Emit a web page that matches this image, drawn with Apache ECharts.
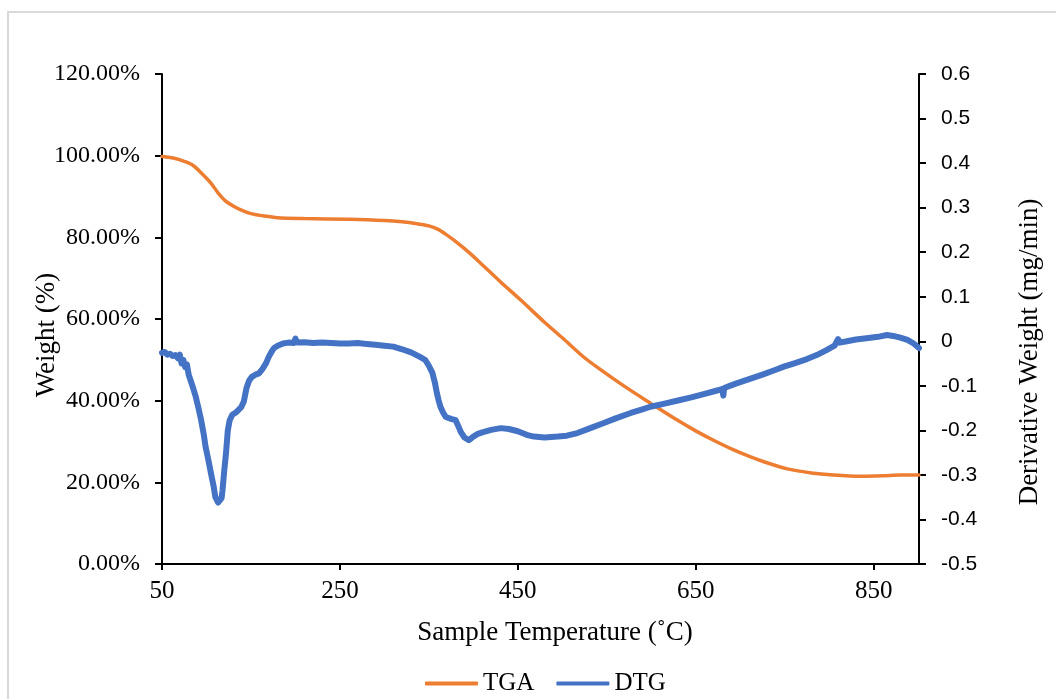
<!DOCTYPE html>
<html>
<head>
<meta charset="utf-8">
<script src="https://cdn.jsdelivr.net/npm/echarts@6.0.0/dist/echarts.min.js"></script>
<style>
  html, body { margin: 0; padding: 0; background: #fff; }
  #myCharts { width: 1056px; height: 699px; }
</style>
</head>
<body>
<div id="myCharts"></div>
<script>
  // x axis ticks shown
  var tempTicks = [50, 250, 450, 650, 850];

  // TGA: weight (%) vs temperature
  var tgaTemp = [50, 65, 75, 85, 95, 105, 113, 121, 130, 140, 150, 165, 180, 210, 260, 300, 320, 335, 350, 360,
    370, 380, 395, 410, 430, 453, 480, 500, 524, 543, 570, 599, 625, 650, 670, 692, 711, 730, 753, 780,
    805, 835, 860, 880, 901];
  var tgaWeight = [99.8, 99.3, 98.6, 97.6, 95.6, 93.3, 90.9, 89.0, 87.7, 86.6, 85.8, 85.2, 84.8, 84.6, 84.4, 84.1, 83.8, 83.4, 82.8, 82.0,
    80.6, 79.0, 76.3, 73.3, 69.2, 64.7, 59.2, 55.4, 50.7, 47.6, 43.5, 39.4, 35.8, 32.6, 30.3, 28.0, 26.3, 24.8, 23.3, 22.3,
    21.8, 21.5, 21.6, 21.8, 21.8];

  // DTG: derivative weight (mg/min) vs temperature
  var dtgTemp = [50, 53, 56, 59, 62, 65, 68, 70, 72, 74, 76, 78, 80, 82, 85, 88, 91, 94, 97, 99,
    102, 105, 108, 110, 113, 115, 117, 118, 120, 122, 124, 126, 129, 133, 136, 139, 142, 145, 148, 151,
    155, 159, 163, 167, 170, 173, 176, 180, 186, 192, 198, 200, 202, 210, 220, 230, 240, 250, 260, 270,
    280, 290, 300, 310, 320, 330, 340, 346, 350, 354, 357, 359, 361, 363, 366, 369, 375, 380, 383, 386,
    390, 395, 400, 405, 411, 420, 431, 440, 450, 460, 468, 480, 495, 505, 517, 530, 546, 560, 577, 590,
    599, 615, 630, 645, 660, 675, 680, 681, 682, 695, 710, 725, 740, 749, 760, 775, 786, 797, 806, 810,
    812, 820, 830, 842, 855, 865, 872, 880, 888, 895, 901];
  var dtgValue = [-0.026, -0.024, -0.03, -0.028, -0.033, -0.031, -0.038, -0.03, -0.05, -0.042, -0.058, -0.052, -0.075, -0.087, -0.105, -0.125, -0.15, -0.177, -0.21, -0.237,
    -0.265, -0.296, -0.325, -0.35, -0.362, -0.365, -0.352, -0.335, -0.29, -0.25, -0.2, -0.178, -0.165, -0.16, -0.154, -0.148, -0.135, -0.105, -0.088, -0.08,
    -0.075, -0.072, -0.062, -0.049, -0.035, -0.024, -0.015, -0.01, -0.005, -0.003, -0.004, 0.006, -0.003, -0.002, -0.004, -0.003, -0.004, -0.005, -0.005, -0.004,
    -0.006, -0.008, -0.01, -0.012, -0.018, -0.025, -0.035, -0.042, -0.055, -0.071, -0.095, -0.116, -0.133, -0.147, -0.16, -0.17, -0.174, -0.177, -0.19, -0.204,
    -0.216, -0.222, -0.214, -0.208, -0.204, -0.199, -0.195, -0.197, -0.202, -0.21, -0.214, -0.216, -0.214, -0.212, -0.206, -0.196, -0.184, -0.173, -0.161, -0.153,
    -0.147, -0.14, -0.133, -0.126, -0.118, -0.11, -0.107, -0.122, -0.105, -0.095, -0.085, -0.075, -0.064, -0.057, -0.05, -0.04, -0.031, -0.02, -0.01, 0.005,
    -0.003, 0.0, 0.004, 0.007, 0.01, 0.014, 0.012, 0.008, 0.003, -0.005, -0.015];

  function pairs(xs, ys) {
    var out = [];
    for (var i = 0; i < xs.length; i++) out.push([xs[i], ys[i]]);
    return out;
  }

  var serif = '"Liberation Serif", "Times New Roman", serif';
  var sans = '"Liberation Sans", Arial, sans-serif';

  var myCharts = echarts.init(document.getElementById('myCharts'));
  var option = {
    animation: false,
    graphic: [
      {
        type: 'rect', z: -1,
        shape: { x: 8, y: 12, width: 1200, height: 900 },
        style: { fill: 'none', stroke: '#d9d9d9', lineWidth: 2 }
      },
      {
        type: 'text', x: 47, y: 335, rotation: Math.PI / 2,
        style: { text: 'Weight (%)', font: '27px ' + serif, fill: '#000', align: 'center', verticalAlign: 'middle' }
      },
      {
        type: 'text', x: 1030, y: 352, rotation: Math.PI / 2,
        style: { text: 'Derivative Weight (mg/min)', font: '27px ' + serif, fill: '#000', align: 'center', verticalAlign: 'middle' }
      },
      {
        type: 'text', x: 555, y: 633,
        style: { text: 'Sample Temperature (˚C)', font: '27px ' + serif, fill: '#000', align: 'center', verticalAlign: 'middle' }
      }
    ],
    grid: { left: 162, right: 137, top: 74, bottom: 135 },
    legend: {
      left: 420, top: 666,
      itemWidth: 53, itemHeight: 4, itemGap: 22,
      icon: 'roundRect',
      textStyle: { fontFamily: serif, fontSize: 25, color: '#000' },
      data: ['TGA', 'DTG']
    },
    xAxis: {
      type: 'value', min: 50, max: 901,
      axisLine: { lineStyle: { color: '#000', width: 2 } },
      axisTick: { show: true, length: 6, lineStyle: { color: '#000', width: 2 }, customValues: tempTicks },
      axisLabel: { margin: 15, fontFamily: serif, fontSize: 25, color: '#000', customValues: tempTicks },
      splitLine: { show: false }
    },
    yAxis: [
      {
        type: 'value', min: 0, max: 120, interval: 20, position: 'left',
        axisLine: { show: true, lineStyle: { color: '#000', width: 2 } },
        axisTick: { show: true, length: 7, lineStyle: { color: '#000', width: 2 } },
        axisLabel: {
          margin: 22, fontFamily: serif, fontSize: 24, color: '#000',
          formatter: function (v) { return v.toFixed(2) + '%'; }
        },
        splitLine: { show: false }
      },
      {
        type: 'value', min: -0.5, max: 0.6, interval: 0.1, position: 'right',
        axisLine: { show: true, lineStyle: { color: '#000', width: 2 } },
        axisTick: { show: true, length: 7, lineStyle: { color: '#000', width: 2 } },
        axisLabel: {
          margin: 22, fontFamily: sans, fontSize: 21, color: '#000',
          formatter: function (v) {
            var s = v.toFixed(1);
            return (s === '0.0' || s === '-0.0') ? '0' : s;
          }
        },
        splitLine: { show: false }
      }
    ],
    series: [
      {
        name: 'TGA', type: 'line', yAxisIndex: 0,
        data: pairs(tgaTemp, tgaWeight),
        smooth: 0.3, symbol: 'none',
        itemStyle: { color: '#ED7D31' },
        lineStyle: { color: '#ED7D31', width: 3.5, cap: 'round' }
      },
      {
        name: 'DTG', type: 'line', yAxisIndex: 1,
        data: pairs(dtgTemp, dtgValue),
        symbol: 'none',
        itemStyle: { color: '#4472C4' },
        lineStyle: { color: '#4472C4', width: 6, cap: 'round', join: 'round' }
      }
    ]
  };
  myCharts.setOption(option, true);
</script>
</body>
</html>
